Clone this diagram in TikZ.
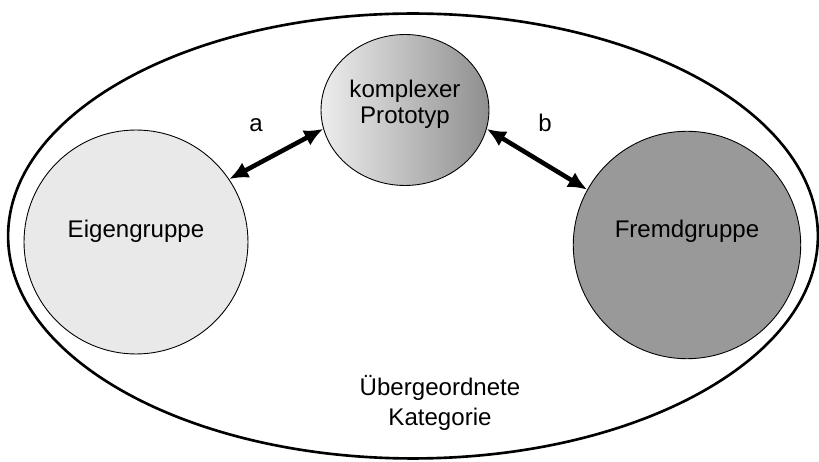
\documentclass[tikz,border=0pt]{standalone}
\usepackage{fontspec}
\setmainfont{Liberation Sans}
\usetikzlibrary{arrows.meta,shapes.geometric}

\definecolor{eigenGrau}{HTML}{E9E9E9}
\definecolor{fremdGrau}{HTML}{999999}

\tikzset{
  schrift/.style={font=\fontsize{13.7}{14.8}\selectfont, align=center},
  gruppe/.style={circle, draw=black, line width=0.5pt, inner sep=0pt},
  pfeil/.style={line width=2.6pt, {Latex[length=3.8mm,width=3.4mm]}-{Latex[length=3.8mm,width=3.4mm]}},
}

\begin{document}
\begin{tikzpicture}[x=0.02cm,y=-0.02cm]
\useasboundingbox (0,0) rectangle (819,462);

% the big category
\node[ellipse, draw=black, line width=1.5pt, minimum width=16.2cm, minimum height=8.9cm] (kategorie) at (413,236) {};
\node[schrift, font=\fontsize{13.7}{17}\selectfont] (kategorieText) at (440,403) {Übergeordnete\\Kategorie};

\node[gruppe, fill=eigenGrau, minimum size=4.48cm,
  label={[schrift, yshift=0.22cm]center:Eigengruppe}] (eigen) at (136,242) {};
\node[gruppe, fill=fremdGrau, minimum size=4.55cm,
  label={[schrift, yshift=0.28cm]center:Fremdgruppe}] (fremd) at (687,245) {};

\node[ellipse, draw=black, line width=0.5pt, inner sep=0pt, minimum width=3.36cm, minimum height=3.02cm,
  left color=black!7, right color=black!44,
  label={[schrift, yshift=0.12cm]center:komplexer\\Prototyp}] (proto) at (405,110) {};

\draw[pfeil] (eigen.34.8) -- (proto.193.8);
\draw[pfeil] (proto.-13.7) -- (fremd.151.4);

\node[schrift, anchor=base] (labA) at (256,132) {a};
\node[schrift, anchor=base] (labB) at (545,132) {b};
\end{tikzpicture}
\end{document}
